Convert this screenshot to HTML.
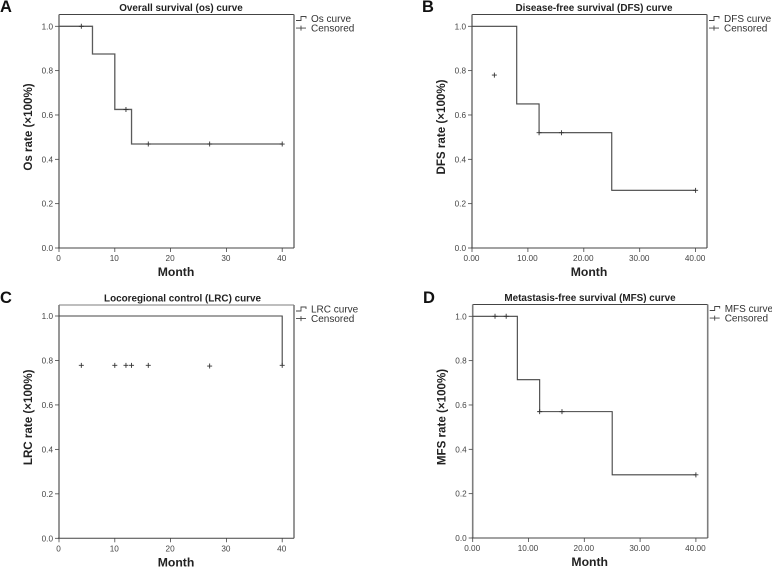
<!DOCTYPE html>
<html>
<head>
<meta charset="utf-8">
<title>Survival curves</title>
<style>
html,body{margin:0;padding:0;background:#fff;width:772px;height:567px;overflow:hidden}
svg{display:block;font-family:"Liberation Sans",Arial,sans-serif;filter:blur(0.3px)}
</style>
</head>
<body>
<svg id="figure" xmlns="http://www.w3.org/2000/svg" width="772" height="567" viewBox="0 0 772 567"></svg>
<script>
// Panel A: overall survival
const osTimes = [0, 6, 10, 13, 40];
const osRates = [1, 0.875, 0.625, 0.469, 0.469];
const osCensorTimes = [4, 12, 16, 27, 40];
const osCensorRates = [1, 0.625, 0.469, 0.469, 0.469];
// Panel B: disease-free survival
const dfsTimes = [0, 8, 12, 25, 40];
const dfsRates = [1, 0.65, 0.52, 0.26, 0.26];
const dfsCensorTimes = [4, 12, 16, 40];
const dfsCensorRates = [0.78, 0.52, 0.52, 0.26];
// Panel C: locoregional control
const lrcTimes = [0, 40];
const lrcRates = [1, 0.78];
const lrcCensorTimes = [4, 10, 12, 13, 16, 27, 40];
const lrcCensorRates = [0.778, 0.778, 0.778, 0.778, 0.778, 0.775, 0.778];
// Panel D: metastasis-free survival
const mfsTimes = [0, 8, 12, 25, 40];
const mfsRates = [1, 0.714, 0.57, 0.285, 0.285];
const mfsCensorTimes = [4, 6, 12, 16, 40];
const mfsCensorRates = [1, 1, 0.57, 0.57, 0.285];
// Tick labels
const yTickValues = [0, 0.2, 0.4, 0.6, 0.8, 1.0];
const xTickValues = [0, 10, 20, 30, 40];

const svg = document.getElementById('figure');
const NS = 'http://www.w3.org/2000/svg';

function make(tag, attrs, parent, text) {
  const el = document.createElementNS(NS, tag);
  for (const k in attrs) el.setAttribute(k, attrs[k]);
  if (text !== undefined) el.textContent = text;
  parent.appendChild(el);
  return el;
}

function drawPanel(p) {
  const g = make('g', {}, svg);
  
  

  const sx = v => p.left + v * p.unit;
  const sy = v => p.y0 - v * (p.y0 - p.y1);

  const letter = make('text', {x: p.letterX, y: p.letterY, 'font-size': 16.5, 'font-weight': 'bold', fill: '#111'}, g, p.letter);
  
  

  const title = make('text', {x: p.titleX, y: p.top - 3.5, 'font-size': 9.9, 'font-weight': 'bold', fill: '#222', 'text-anchor': 'middle'}, g, p.title);
  
  

  const frame = make('path', {d: `M${p.left} ${p.top}H${p.right}`, stroke: p.topColor, 'stroke-width': 1.1, fill: 'none'}, g);
  
  

  const leftAxis = make('line', {x1: p.left, y1: p.top, x2: p.left, y2: p.y0, stroke: '#7d7d7d', 'stroke-width': 1.6}, g);
  
  

  const rightEdge = make('line', {x1: p.right, y1: p.top, x2: p.right, y2: p.y0, stroke: '#7d7d7d', 'stroke-width': 1.6}, g);
  
  

  const bottomAxis = make('line', {x1: p.left - 1, y1: p.y0, x2: p.right, y2: p.y0, stroke: '#444', 'stroke-width': 1}, g);
  
  

  yTickValues.forEach(v => {
    const t = make('line', {x1: p.left - 4, x2: p.left, y1: sy(v), y2: sy(v), stroke: '#444', 'stroke-width': 0.8}, g);
    
    
    const l = make('text', {x: p.left - 6, y: sy(v) + 3, 'font-size': 8.2, fill: '#444', 'text-anchor': 'end'}, g, v.toFixed(1));
    
    
  });

  xTickValues.forEach(v => {
    const t = make('line', {x1: sx(v), x2: sx(v), y1: p.y0, y2: p.y0 + 4, stroke: '#444', 'stroke-width': 0.8}, g);
    
    
    const l = make('text', {x: sx(v) - 0.5, y: p.y0 + 13, 'font-size': 8.2, fill: '#444', 'text-anchor': 'middle'}, g, p.decimals ? v.toFixed(2) : String(v));
    
    
  });

  const xTitle = make('text', {x: p.left + 117, y: p.y0 + 28, 'font-size': 12.2, 'font-weight': 'bold', fill: '#222', 'text-anchor': 'middle'}, g, 'Month');
  
  

  const yMid = p.y0 - 121;
  const yTitle = make('text', {x: p.left - 27, y: yMid, 'font-size': 11.6, 'font-weight': 'bold', fill: '#222', 'text-anchor': 'middle', transform: `rotate(-90 ${p.left - 27} ${yMid})`}, g, p.yTitle);
  
  

  // Step curve
  let d = `M${sx(p.times[0])} ${sy(p.rates[0])}`;
  for (let i = 1; i < p.times.length; i++) {
    d += `H${sx(p.times[i])}V${sy(p.rates[i])}`;
  }
  const curve = make('path', {d, fill: 'none', stroke: p.curveColor, 'stroke-width': p.curveWidth}, g);
  
  

  // Censor marks
  p.censorTimes.forEach((t, i) => {
    const cx = sx(t), cy = sy(p.censorRates[i]);
    const m = make('path', {d: `M${cx - 2.5} ${cy}H${cx + 2.5}M${cx} ${cy - 2.5}V${cy + 2.5}`, fill: 'none', stroke: '#333', 'stroke-width': 0.9}, g);
    
    
  });

  // Legend
  const lx = p.right + 2, ly = p.top + 4;
  const lgCurve = make('path', {d: `M${lx} ${ly + 2}H${lx + 5}V${ly - 2}H${lx + 10}V${ly}`, fill: 'none', stroke: '#444', 'stroke-width': 0.9}, g);
  
  
  const lgCurveText = make('text', {x: p.right + 17, y: ly + 3.6, 'font-size': 10, fill: '#333'}, g, p.legend);
  
  
  const cy2 = ly + 9.6;
  const lgCens = make('path', {d: `M${lx} ${cy2}H${lx + 10}M${lx + 5} ${cy2 - 2.5}V${cy2 + 2.5}`, fill: 'none', stroke: '#444', 'stroke-width': 0.9}, g);
  
  
  const lgCensText = make('text', {x: p.right + 17, y: cy2 + 3.6, 'font-size': 10, fill: '#333'}, g, 'Censored');
  
  
}

drawPanel({key: 'os', letter: 'A', letterX: 0, letterY: 12, title: 'Overall survival (os) curve', titleX: 181, left: 59, right: 294, top: 14.5, y0: 248, y1: 26.3, unit: 5.58, decimals: false, yTitle: 'Os rate (×100%)', legend: 'Os curve', topColor: '#444', curveColor: '#5a5a5a', curveWidth: 1.3, times: osTimes, rates: osRates, censorTimes: osCensorTimes, censorRates: osCensorRates});
drawPanel({key: 'dfs', letter: 'B', letterX: 422, letterY: 12, title: 'Disease-free survival (DFS) curve', titleX: 594, left: 472, right: 707, top: 14.5, y0: 248, y1: 26.3, unit: 5.59, decimals: true, yTitle: 'DFS rate (×100%)', legend: 'DFS curve', topColor: '#444', curveColor: '#444', curveWidth: 1.1, times: dfsTimes, rates: dfsRates, censorTimes: dfsCensorTimes, censorRates: dfsCensorRates});
drawPanel({key: 'lrc', letter: 'C', letterX: 0, letterY: 303, title: 'Locoregional control (LRC) curve', titleX: 182.5, left: 59, right: 294, top: 305, y0: 538.3, y1: 316, unit: 5.58, decimals: false, yTitle: 'LRC rate (×100%)', legend: 'LRC curve', topColor: '#7d7d7d', curveColor: '#444', curveWidth: 1.1, times: lrcTimes, rates: lrcRates, censorTimes: lrcCensorTimes, censorRates: lrcCensorRates});
drawPanel({key: 'mfs', letter: 'D', letterX: 423, letterY: 303, title: 'Metastasis-free survival (MFS) curve', titleX: 590, left: 472.7, right: 707.7, top: 304.5, y0: 538, y1: 316.3, unit: 5.58, decimals: true, yTitle: 'MFS rate (×100%)', legend: 'MFS curve', topColor: '#444', curveColor: '#444', curveWidth: 1.1, times: mfsTimes, rates: mfsRates, censorTimes: mfsCensorTimes, censorRates: mfsCensorRates});
</script>
</body>
</html>
